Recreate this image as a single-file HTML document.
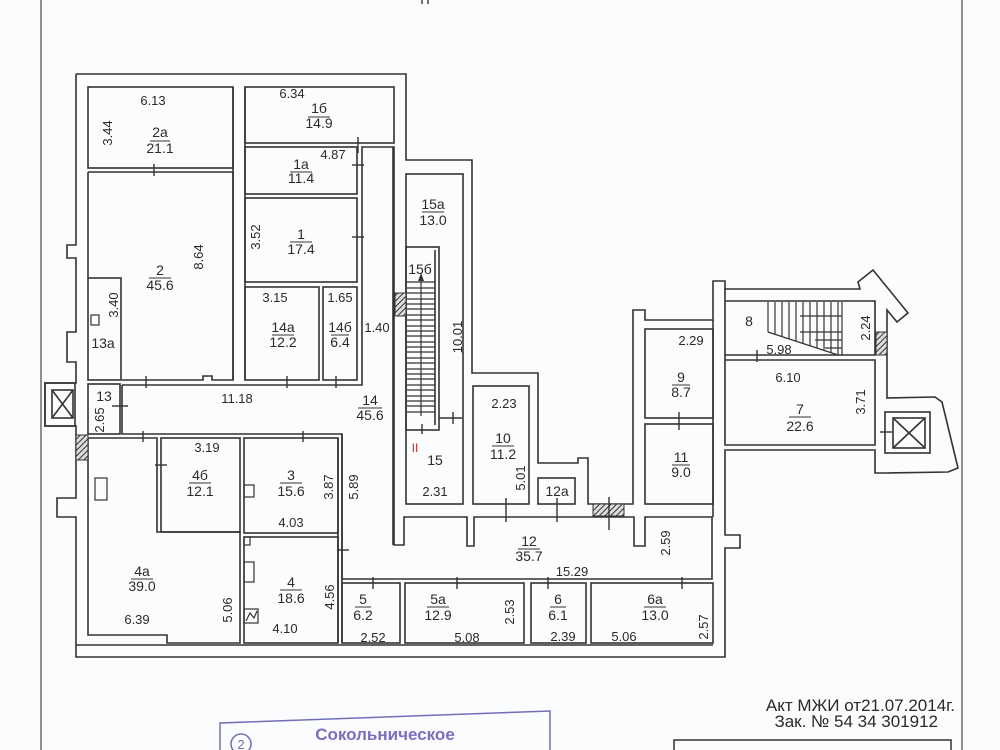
<!DOCTYPE html>
<html><head><meta charset="utf-8"><style>
html,body{margin:0;padding:0;background:#fbfcfd;}
svg{display:block}
text{font-family:"Liberation Sans Narrow","Liberation Sans",sans-serif;font-size:14px;fill:#2a2a2a;text-anchor:middle}
.d{font-size:13px}
</style></head><body>
<svg width="1000" height="750" viewBox="0 0 1000 750" xmlns="http://www.w3.org/2000/svg">
<defs>
<pattern id="h" width="4" height="4" patternUnits="userSpaceOnUse" patternTransform="rotate(45)">
<rect width="4" height="4" fill="#ddd"/><line x1="0" y1="0" x2="0" y2="4" stroke="#333" stroke-width="2"/></pattern>
</defs>
<rect width="1000" height="750" fill="#fbfcfd"/>
<line x1="41" y1="0" x2="41" y2="750" stroke="#555" stroke-width="1.3"/>
<line x1="962" y1="0" x2="962" y2="750" stroke="#555" stroke-width="1.3"/>
<line x1="422" y1="0" x2="422" y2="4" stroke="#444" stroke-width="1.5"/><line x1="428" y1="0" x2="428" y2="4" stroke="#444" stroke-width="1.5"/>

<g fill="none" stroke="#333" stroke-width="1.6">
<!-- outer building -->
<polyline points="76,74 406,74 406,160 472,160 472,373 538,373 538,463 578,463 578,458 588,458 588,504 633,504 633,310 645,310 645,320 713,320 713,281 725,281 725,289 860,289 858,282 873,270 908,313 897,322 887,310 887,398 935,397 942,402 958,468 948,472 886,473 875,473 875,450 725,450 725,535 740,535 740,548 725,548 725,657 76,657 76,517 57,517 57,498 76,498 76,426 45,426 45,383 76,383 76,362 67,362 67,332 76,332 76,258 67,258 67,245 76,245 76,74"/>
<!-- rooms -->
<rect x="88" y="87" width="145" height="81"/>
<polyline points="88,172 233,172 233,380 212,380 212,376 203,376 203,380 122,380"/>
<rect x="88" y="278" width="33" height="102"/>
<line x1="88" y1="172" x2="88" y2="278"/>
<rect x="245" y="87" width="149" height="56"/>
<rect x="245" y="147" width="112" height="47"/>
<rect x="245" y="198" width="112" height="84"/>
<rect x="245" y="287" width="74" height="93"/>
<rect x="323" y="287" width="34" height="93"/>
<line x1="233" y1="87" x2="233" y2="380"/><line x1="245" y1="87" x2="245" y2="380"/>
<!-- corridor 14 -->
<polyline points="122,385 362,385 362,147 394,147 394,545 404,545 404,517 467,517 467,546 474,546 474,517 634,517 634,546 645,546 645,517 712,517 712,579 342,579 342,434 122,434 122,385"/>
<line x1="393" y1="147" x2="393" y2="545"/>
<!-- 13 -->
<rect x="88" y="384" width="32" height="50"/>
<!-- lower left -->
<polyline points="88,438 157,438 157,532 240,532 240,643 167,643 167,635 88,635 88,438"/>
<rect x="161" y="438" width="79" height="94"/>
<rect x="244" y="438" width="94" height="95"/>
<rect x="244" y="537" width="94" height="106"/>
<line x1="338" y1="438" x2="338" y2="643"/><line x1="342" y1="434" x2="342" y2="643"/>
<rect x="342" y="583" width="58" height="60"/>
<rect x="405" y="583" width="119" height="60"/>
<rect x="531" y="583" width="55" height="60"/>
<rect x="591" y="583" width="122" height="60"/>
<line x1="76" y1="645" x2="713" y2="645"/>
<!-- 15 block -->
<rect x="406" y="174" width="57" height="330"/>
<rect x="406" y="247" width="33" height="183"/>
<line x1="435" y1="250" x2="435" y2="425"/>
<line x1="439" y1="418" x2="462" y2="418"/>
<rect x="473" y="386" width="56" height="118"/>
<rect x="538" y="478" width="37" height="26"/>
<rect x="645" y="329" width="68" height="89"/>
<rect x="645" y="424" width="68" height="80"/>
<line x1="713" y1="320" x2="713" y2="517"/>
<!-- 8 / 7 -->
<polyline points="725,301 875,301 875,355 725,355"/>
<polyline points="725,360 875,360 875,445 725,445 725,289"/>
<rect x="885" y="412" width="45" height="41"/>
<rect x="893" y="418" width="32" height="30"/>
<line x1="893" y1="418" x2="925" y2="448"/><line x1="925" y1="418" x2="893" y2="448"/>
<rect x="45" y="383" width="30" height="43"/>
<rect x="52" y="390" width="21" height="28"/>
<line x1="52" y1="390" x2="73" y2="418"/><line x1="73" y1="390" x2="52" y2="418"/>
</g>
<!-- stairs 15b -->
<g stroke="#333" stroke-width="1.2">
<line x1="407" y1="282" x2="435" y2="282"/><line x1="407" y1="288" x2="435" y2="288"/><line x1="407" y1="293" x2="435" y2="293"/><line x1="407" y1="299" x2="435" y2="299"/><line x1="407" y1="304" x2="435" y2="304"/><line x1="407" y1="309" x2="435" y2="309"/><line x1="407" y1="315" x2="435" y2="315"/><line x1="407" y1="320" x2="435" y2="320"/><line x1="407" y1="326" x2="435" y2="326"/><line x1="407" y1="331" x2="435" y2="331"/><line x1="407" y1="336" x2="435" y2="336"/><line x1="407" y1="342" x2="435" y2="342"/><line x1="407" y1="347" x2="435" y2="347"/><line x1="407" y1="352" x2="435" y2="352"/><line x1="407" y1="358" x2="435" y2="358"/><line x1="407" y1="363" x2="435" y2="363"/><line x1="407" y1="369" x2="435" y2="369"/><line x1="407" y1="374" x2="435" y2="374"/><line x1="407" y1="379" x2="435" y2="379"/><line x1="407" y1="385" x2="435" y2="385"/><line x1="407" y1="390" x2="435" y2="390"/><line x1="407" y1="396" x2="435" y2="396"/><line x1="407" y1="401" x2="435" y2="401"/><line x1="407" y1="406" x2="435" y2="406"/><line x1="407" y1="412" x2="435" y2="412"/>
<line x1="421" y1="280" x2="421" y2="416"/>
<!-- stairs 8 -->
<line x1="768" y1="302" x2="768" y2="332"/><line x1="775" y1="302" x2="775" y2="334"/><line x1="782" y1="302" x2="782" y2="336"/><line x1="789" y1="302" x2="789" y2="339"/><line x1="796" y1="302" x2="796" y2="341"/><line x1="803" y1="302" x2="803" y2="344"/><line x1="810" y1="302" x2="810" y2="346"/><line x1="817" y1="302" x2="817" y2="348"/><line x1="824" y1="302" x2="824" y2="351"/><line x1="831" y1="302" x2="831" y2="353"/><line x1="838" y1="302" x2="838" y2="355"/><line x1="842" y1="302" x2="842" y2="355"/>
<line x1="768" y1="332" x2="838" y2="355"/>
<line x1="800" y1="332" x2="842" y2="332"/><line x1="815" y1="340" x2="842" y2="340"/><line x1="825" y1="348" x2="842" y2="348"/>
<line x1="800" y1="316" x2="842" y2="316"/>
</g>
<polygon points="421,273 418,281 424,281" fill="#333"/>
<!-- hatched -->
<g stroke="#333" stroke-width="1" fill="url(#h)">
<rect x="395" y="293" width="11" height="23"/>
<rect x="76" y="435" width="12" height="25"/>
<rect x="593" y="504" width="31" height="12"/>
<rect x="876" y="332" width="11" height="23"/>
</g>
<!-- door ticks -->
<g stroke="#333" stroke-width="1.4">
<line x1="154" y1="164" x2="154" y2="176"/><line x1="358" y1="137" x2="358" y2="153"/><line x1="352" y1="165" x2="364" y2="165"/><line x1="352" y1="237" x2="364" y2="237"/>
<line x1="287" y1="376" x2="287" y2="388"/><line x1="336" y1="376" x2="336" y2="388"/><line x1="146" y1="376" x2="146" y2="388"/>
<line x1="112" y1="406" x2="128" y2="406"/><line x1="143" y1="431" x2="143" y2="442"/><line x1="303" y1="431" x2="303" y2="442"/><line x1="155" y1="465" x2="167" y2="465"/>
<line x1="337" y1="550" x2="349" y2="550"/><line x1="373" y1="577" x2="373" y2="589"/><line x1="457" y1="577" x2="457" y2="589"/><line x1="548" y1="577" x2="548" y2="589"/><line x1="682" y1="577" x2="682" y2="589"/>
<line x1="453" y1="412" x2="453" y2="424"/><line x1="422" y1="424" x2="422" y2="434"/>
<line x1="506" y1="498" x2="506" y2="522"/><line x1="557" y1="498" x2="557" y2="522"/><line x1="609" y1="497" x2="609" y2="530"/>
<line x1="679" y1="412" x2="679" y2="430"/><line x1="757" y1="350" x2="757" y2="362"/><line x1="880" y1="432" x2="892" y2="432"/>
</g>
<!-- fixtures -->
<g fill="none" stroke="#333" stroke-width="1.2">
<rect x="95" y="478" width="12" height="22"/><rect x="244" y="485" width="10" height="12"/>
<rect x="244" y="562" width="10" height="20"/><rect x="244" y="609" width="14" height="14"/>
<polyline points="246,621 250,613 254,618 257,611"/><rect x="91" y="315" width="8" height="10"/><rect x="244" y="537" width="6" height="8"/>
</g>
<!-- labels -->
<g>
<text x="160" y="137">2а</text><line x1="150" y1="141" x2="170" y2="141" stroke="#333"/><text x="160" y="153">21.1</text>
<text x="319" y="113">1б</text><line x1="308" y1="117" x2="330" y2="117" stroke="#333"/><text x="319" y="128">14.9</text>
<text x="301" y="169">1а</text><line x1="290" y1="172" x2="312" y2="172" stroke="#333"/><text x="301" y="183">11.4</text>
<text x="301" y="239">1</text><line x1="290" y1="242" x2="312" y2="242" stroke="#333"/><text x="301" y="254">17.4</text>
<text x="160" y="275">2</text><line x1="149" y1="278" x2="171" y2="278" stroke="#333"/><text x="160" y="290">45.6</text>
<text x="283" y="332">14а</text><line x1="272" y1="335" x2="294" y2="335" stroke="#333"/><text x="283" y="347">12.2</text>
<text x="340" y="332">14б</text><line x1="331" y1="335" x2="349" y2="335" stroke="#333"/><text x="340" y="347">6.4</text>
<text x="433" y="209">15а</text><line x1="422" y1="212" x2="444" y2="212" stroke="#333"/><text x="433" y="225">13.0</text>
<text x="420" y="274">15б</text>
<text x="103" y="348">13а</text><text x="104" y="401">13</text>
<text x="370" y="405">14</text><line x1="358" y1="408" x2="382" y2="408" stroke="#333"/><text x="370" y="420">45.6</text>
<text x="200" y="480">4б</text><line x1="189" y1="483" x2="211" y2="483" stroke="#333"/><text x="200" y="496">12.1</text>
<text x="291" y="480">3</text><line x1="280" y1="483" x2="302" y2="483" stroke="#333"/><text x="291" y="496">15.6</text>
<text x="142" y="576">4а</text><line x1="131" y1="579" x2="153" y2="579" stroke="#333"/><text x="142" y="591">39.0</text>
<text x="291" y="587">4</text><line x1="280" y1="590" x2="302" y2="590" stroke="#333"/><text x="291" y="603">18.6</text>
<text x="363" y="604">5</text><line x1="355" y1="607" x2="371" y2="607" stroke="#333"/><text x="363" y="620">6.2</text>
<text x="438" y="604">5а</text><line x1="427" y1="607" x2="449" y2="607" stroke="#333"/><text x="438" y="620">12.9</text>
<text x="558" y="604">6</text><line x1="550" y1="607" x2="566" y2="607" stroke="#333"/><text x="558" y="620">6.1</text>
<text x="655" y="604">6а</text><line x1="644" y1="607" x2="666" y2="607" stroke="#333"/><text x="655" y="620">13.0</text>
<text x="435" y="465">15</text>
<text x="503" y="443">10</text><line x1="492" y1="446" x2="514" y2="446" stroke="#333"/><text x="503" y="459">11.2</text>
<text x="557" y="496">12а</text>
<text x="529" y="546">12</text><line x1="518" y1="549" x2="540" y2="549" stroke="#333"/><text x="529" y="561">35.7</text>
<text x="681" y="382">9</text><line x1="672" y1="385" x2="690" y2="385" stroke="#333"/><text x="681" y="397">8.7</text>
<text x="681" y="462">11</text><line x1="672" y1="465" x2="690" y2="465" stroke="#333"/><text x="681" y="477">9.0</text>
<text x="749" y="326">8</text>
<text x="800" y="414">7</text><line x1="789" y1="417" x2="811" y2="417" stroke="#333"/><text x="800" y="431">22.6</text>
<text x="415" y="452" style="fill:#d22;font-size:12px">II</text>
</g>
<g class="d">
<text class="d" x="153" y="105">6.13</text><text class="d" x="292" y="98">6.34</text><text class="d" x="333" y="159">4.87</text>
<text class="d" x="275" y="302">3.15</text><text class="d" x="340" y="302">1.65</text><text class="d" x="377" y="332">1.40</text>
<text class="d" x="237" y="403">11.18</text><text class="d" x="207" y="452">3.19</text><text class="d" x="291" y="527">4.03</text>
<text class="d" x="435" y="496">2.31</text><text class="d" x="504" y="408">2.23</text><text class="d" x="137" y="624">6.39</text>
<text class="d" x="285" y="633">4.10</text><text class="d" x="373" y="642">2.52</text><text class="d" x="467" y="642">5.08</text>
<text class="d" x="563" y="641">2.39</text><text class="d" x="624" y="641">5.06</text><text class="d" x="572" y="576">15.29</text>
<text class="d" x="691" y="345">2.29</text><text class="d" x="779" y="354">5.98</text><text class="d" x="788" y="382">6.10</text>
<text class="d" transform="translate(112,133) rotate(-90)">3.44</text>
<text class="d" transform="translate(260,237) rotate(-90)">3.52</text>
<text class="d" transform="translate(203,257) rotate(-90)">8.64</text>
<text class="d" transform="translate(118,305) rotate(-90)">3.40</text>
<text class="d" transform="translate(462,337) rotate(-90)">10.01</text>
<text class="d" transform="translate(104,420) rotate(-90)">2.65</text>
<text class="d" transform="translate(333,487) rotate(-90)">3.87</text>
<text class="d" transform="translate(358,487) rotate(-90)">5.89</text>
<text class="d" transform="translate(232,610) rotate(-90)">5.06</text>
<text class="d" transform="translate(334,597) rotate(-90)">4.56</text>
<text class="d" transform="translate(514,612) rotate(-90)">2.53</text>
<text class="d" transform="translate(525,478) rotate(-90)">5.01</text>
<text class="d" transform="translate(670,543) rotate(-90)">2.59</text>
<text class="d" transform="translate(708,627) rotate(-90)">2.57</text>
<text class="d" transform="translate(870,328) rotate(-90)">2.24</text>
<text class="d" transform="translate(865,402) rotate(-90)">3.71</text>
</g>
<text x="955" y="711" style="text-anchor:end;font-size:17px">Акт МЖИ от21.07.2014г.</text>
<text x="938" y="727" style="text-anchor:end;font-size:17px">Зак. № 54 34 301912</text>
<rect x="674" y="740" width="277" height="20" fill="none" stroke="#333" stroke-width="1.5"/>
<polyline points="220,760 220,723 550,711 550,760" fill="none" stroke="#6f6fb8" stroke-width="1.5"/>
<circle cx="241" cy="744" r="10" fill="none" stroke="#6f6fb8" stroke-width="1.5"/>
<text x="241" y="749" style="fill:#6f6fb8;font-size:13px">2</text>
<text x="385" y="740" style="fill:#7a6fbf;font-size:17px;font-weight:bold">Сокольническое</text>
</svg>
</body></html>
